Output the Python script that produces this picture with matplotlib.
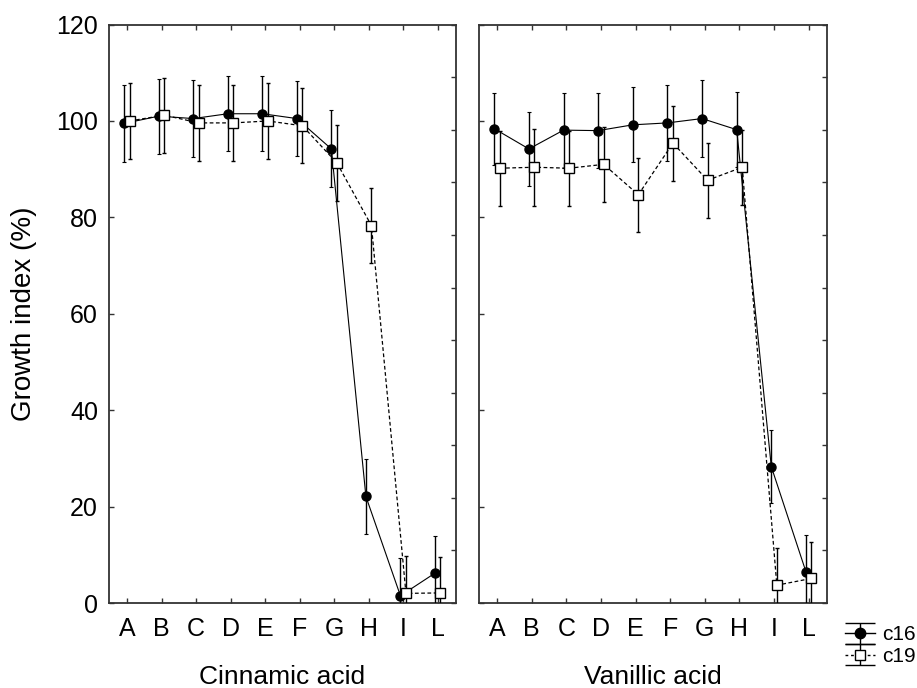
import matplotlib
matplotlib.use("Agg")
import matplotlib.pyplot as plt
import numpy as np

plt.rcParams["font.family"] = ["Liberation Sans", "DejaVu Sans"]

categories = ["A", "B", "C", "D", "E", "F", "G", "H", "I", "L"]

# Cinnamic acid
cin_c16 = [99.5, 101.0, 100.5, 101.5, 101.5, 100.5, 94.2, 22.1, 1.5, 6.2]
cin_c16_err = [8.0, 7.8, 8.0, 7.8, 7.8, 7.8, 8.0, 7.8, 7.8, 7.8]
cin_c19 = [100.0, 101.2, 99.6, 99.6, 100.0, 99.0, 91.3, 78.3, 2.0, 2.1]
cin_c19_err = [7.9, 7.8, 7.8, 7.8, 7.8, 7.8, 7.8, 7.7, 7.8, 7.5]

# Vanillic acid
van_c16 = [98.4, 94.2, 98.1, 98.0, 99.2, 99.6, 100.5, 98.2, 28.3, 6.5]
van_c16_err = [7.5, 7.7, 7.8, 7.7, 7.8, 7.8, 7.9, 7.8, 7.5, 7.6]
van_c19 = [90.2, 90.4, 90.2, 91.0, 84.7, 95.4, 87.7, 90.4, 3.7, 5.1]
van_c19_err = [7.8, 8.0, 7.8, 7.8, 7.7, 7.8, 7.8, 7.8, 7.8, 7.5]

panels = [
    ("Cinnamic acid", cin_c16, cin_c16_err, cin_c19, cin_c19_err),
    ("Vanillic acid", van_c16, van_c16_err, van_c19, van_c19_err),
]

x = np.arange(len(categories))
spine_col = "#333333"

fig = plt.figure(figsize=(9.17, 6.88), dpi=100)
ax_l = fig.add_axes([0.1189, 0.1235, 0.3784, 0.8408])
ax_r = fig.add_axes([0.5224, 0.1235, 0.3795, 0.8408])

for ax, (name, c16, c16e, c19, c19e) in zip([ax_l, ax_r], panels):
    ax.errorbar(x - 0.08, c16, yerr=c16e, color="black", lw=0.8, ls="-",
                marker="o", ms=6.5, mfc="black", mec="black",
                elinewidth=1.0, capsize=1.5, capthick=0.8, zorder=3)
    ax.errorbar(x + 0.08, c19, yerr=c19e, color="black", lw=0.9, ls=(0, (3, 2)),
                marker="s", ms=7, mfc="white", mec="black", mew=1.0,
                elinewidth=1.0, capsize=1.5, capthick=0.8, zorder=4)
    ax.set_xlim(-0.52, 9.53)
    ax.set_ylim(0, 120)
    ax.set_xticks(x)
    ax.set_xticklabels(categories)
    ax.set_yticks(np.arange(0, 121, 20))
    ax.tick_params(axis="both", direction="in", length=3.5, width=1,
                   color=spine_col, labelsize=18, top=True)
    ax.tick_params(axis="x", pad=10)
    ax.tick_params(axis="y", pad=8)
    ax.set_xlabel(name, fontsize=19, labelpad=17)
    for s in ax.spines.values():
        s.set_linewidth(1.3)
        s.set_color(spine_col)
    # right-side ticks on a separate scale, as in the original software
    sec = ax.secondary_yaxis("right")
    sec.set_yticks(np.linspace(0, 120, 12))
    sec.tick_params(direction="in", length=3.5, width=1, color=spine_col,
                    labelright=False)
    sec.spines["right"].set_visible(False)

ax_l.set_ylabel("Growth index (%)", fontsize=20, labelpad=14)
ax_r.tick_params(axis="y", labelleft=False)

# legend proxies with wide caps
dummy = fig.add_axes([0, 0, 0.01, 0.01])
dummy.set_visible(False)
h16 = dummy.errorbar([0], [0], yerr=[1], color="black", lw=1.0, ls="-",
                     marker="o", ms=7.5, mfc="black", mec="black",
                     elinewidth=1.0, capsize=11, capthick=1.0)
h19 = dummy.errorbar([0], [0], yerr=[1], color="black", lw=1.0, ls=(0, (2, 2)),
                     marker="s", ms=7.5, mfc="white", mec="black",
                     elinewidth=1.0, capsize=11, capthick=1.0)
fig.legend([h16, h19], ["c16", "c19"], loc="lower left",
           bbox_to_anchor=(0.921, 0.032), frameon=False, fontsize=15,
           handlelength=1.45, handletextpad=0.35, labelspacing=0.12,
           borderpad=0.0, borderaxespad=0.0)

fig.savefig("out.png", dpi=100)
